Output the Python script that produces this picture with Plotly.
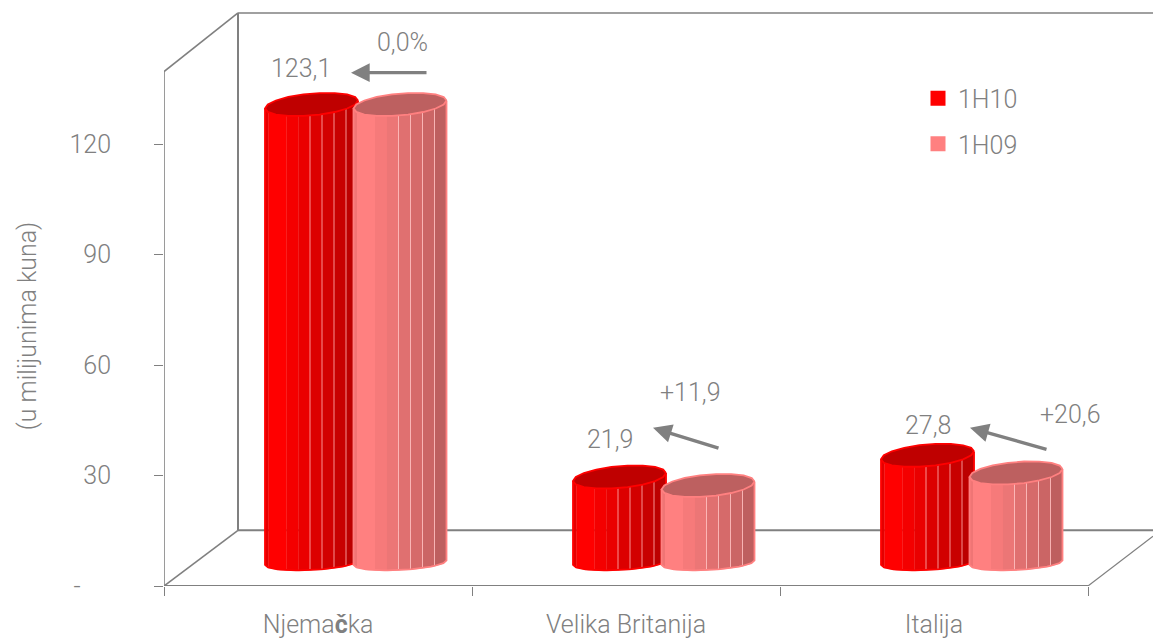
import numpy as np
import plotly.graph_objects as go

# ---- data ----
categories = ["Njema<b>č</b>ka", "Velika Britanija", "Italija"]
series_names = ["1H10", "1H09"]
values_1h10 = [123.1, 21.9, 27.8]
values_1h09 = [123.1, 19.6, 23.0]
total_labels = ["123,1", "21,9", "27,8"]
change_labels = ["0,0%", "+11,9", "+20,6"]
y_ticks = [0, 30, 60, 90, 120]
y_tick_text = ["-\u00a0\u00a0\u00a0\u00a0\u00a0", "30", "60", "90", "120"]
y_title = "(u milijunima kuna)"

# ---- geometry / style ----
W, H = 1153, 639
PX_X = 308.0          # pixels per category
PX_Y = 3.7            # pixels per value unit
ML, MB = 164, 50      # plot area starts here
GREY = "#808080"
FONT = "Roboto"
FS = 25


def fx(px):           # pixel offset -> x data units
    return px / PX_X


def fy(px):           # pixel offset -> y data units
    return px / PX_Y


Y0_PX = H - MB
x_range = [-0.5, -0.5 + (W - ML) / PX_X]
y_range = [0, Y0_PX / PX_Y]

# pseudo-3D frame
DX = fx(74)
X_L, X_R = -0.5, 2.5
Y_TOP = fy(517)
Y_BACK_TOP = fy(576)
Y_FLOOR = fy(56)
frame = [
    ((X_L, 0), (X_L, Y_TOP), 1.6),
    ((X_L, Y_TOP), (X_L + DX, Y_BACK_TOP), 1.6),
    ((X_L + DX, Y_BACK_TOP), (x_range[1], Y_BACK_TOP), 1.6),
    ((X_L + DX, Y_FLOOR), (X_L + DX, Y_BACK_TOP), 2.0),
    ((X_L + DX, Y_FLOOR), (x_range[1], Y_FLOOR), 2.0),
    ((X_L, 0), (X_L + DX, Y_FLOOR), 1.6),
    ((X_R, 0), (x_range[1], fy(50)), 1.2),
    ((X_L, 0), (X_R, 0), 2.0),
]

# cylinder geometry (in px relative to column)
SERIES_OFFSETS = [fx(-6.5), fx(82)]
A = 46.5
BASE_C = fy(23.5)
TOP_C = fy(28.5)
B_TOP, B_BASE = 11.0, 7.5
K_TOP, K_BASE = 0.085, 0.05
BAND_EDGES = [-46.5, -43, -25, -13, -1.5, 10.5, 22.5, 34.5, 46.5]
SHADES = [
    ["#e40000", "#ff0000", "#f40000", "#ea0000", "#dc0000", "#d20000", "#c80000", "#bc0000"],
    ["#f07575", "#ff8080", "#f67a7a", "#ec7676", "#e07070", "#d66a6a", "#cb6565", "#be5f5f"],
]
EDGE = ["#ff0000", "#ff8080"]
CAP = ["#bf0000", "#bd6060"]
SEP = ["rgba(255,170,170,0.85)", "rgba(255,190,190,0.85)"]

fig = go.Figure()


def base_y(u_px, v):
    """Lower edge of the cylinder side."""
    u = np.clip(u_px / A, -1, 1)
    return BASE_C + fy(K_BASE * u_px - B_BASE * np.sqrt(1 - u ** 2))


def top_mid(u_px, v):
    return TOP_C + v + fy(K_TOP * u_px)


def add_cylinder(cx, v, s, name):
    for i, (e0, e1) in enumerate(zip(BAND_EDGES[:-1], BAND_EDGES[1:])):
        us = np.linspace(e0, e1, 7)
        xs = np.concatenate([cx + fx(us), cx + fx(us[::-1])])
        ys = np.concatenate([base_y(us, v), top_mid(us[::-1], v)])
        fig.add_trace(go.Scatter(
            x=xs, y=ys, mode="lines", fill="toself", fillcolor=SHADES[s][i],
            line=dict(color=SHADES[s][i], width=0.5), showlegend=False,
            hoverinfo="text", text=f"{name}: {v}"))
    # facet separators
    sx, sy = [], []
    for e in BAND_EDGES[4:-1]:
        sx += [cx + fx(e), cx + fx(e), None]
        sy += [float(base_y(e, v)), float(top_mid(e, v)), None]
    fig.add_trace(go.Scatter(x=sx, y=sy, mode="lines", showlegend=False, hoverinfo="skip",
                             line=dict(color=SEP[s], width=1)))
    # outline of the side
    us = np.linspace(-A, A, 31)
    ox = np.concatenate([[cx - fx(A)], cx + fx(us), [cx + fx(A)]])
    oy = np.concatenate([[top_mid(-A, v)], base_y(us, v), [top_mid(A, v)]])
    fig.add_trace(go.Scatter(x=ox, y=oy, mode="lines", showlegend=False, hoverinfo="skip",
                             line=dict(color=EDGE[s], width=1.8)))
    # top cap
    t = np.linspace(0, 2 * np.pi, 19)
    u = A * np.cos(t)
    fig.add_trace(go.Scatter(
        x=cx + fx(u), y=top_mid(u, v) + fy(B_TOP * np.sin(t)),
        mode="lines", fill="toself", fillcolor=CAP[s],
        line=dict(color=EDGE[s], width=1.8), showlegend=False,
        hoverinfo="text", text=f"{name}: {v}"))


for s, (name, vals) in enumerate(zip(series_names, [values_1h10, values_1h09])):
    for c, v in enumerate(vals):
        add_cylinder(c + SERIES_OFFSETS[s], v, s, name)

# legend entries
for name, color in zip(series_names, EDGE):
    fig.add_trace(go.Scatter(x=[None], y=[None], mode="markers", name=name, legendgroup=name,
                             marker=dict(symbol="square", size=15, color=color)))

shapes = [dict(type="line", xref="x", yref="y", x0=a[0], y0=a[1], x1=b[0], y1=b[1],
               line=dict(color=GREY, width=w), layer="below") for a, b, w in frame]

# annotation placement (pixel offsets from the column centre / above the floor line)
total_pos = [(-17, 520), (-16, 147), (-6, 161)]
change_pos = [(84, 546), (64, 194), (136, 172)]
arrow_tail = [(110, 516), (94, 138), (114, 137)]
arrow_head = [(33, 516), (27, 159), (36, 159)]
annotations = []
for c in range(3):
    annotations.append(dict(x=c + fx(total_pos[c][0]), y=fy(total_pos[c][1]), text=total_labels[c],
                            showarrow=False, xref="x", yref="y"))
    annotations.append(dict(x=c + fx(change_pos[c][0]), y=fy(change_pos[c][1]), text=change_labels[c],
                            showarrow=False, xref="x", yref="y"))
    annotations.append(dict(x=c + fx(arrow_head[c][0]), y=fy(arrow_head[c][1]),
                            ax=c + fx(arrow_tail[c][0]), ay=fy(arrow_tail[c][1]),
                            xref="x", yref="y", axref="x", ayref="y", text="", showarrow=True,
                            arrowhead=2, arrowsize=1.1, arrowwidth=3.4, arrowcolor=GREY))

# y-axis title, placed to match the reference
annotations.append(dict(xref="paper", yref="paper", x=(27 - ML) / (W - ML), y=1 - 328 / (H - MB),
                        xanchor="center", yanchor="middle", text=y_title, textangle=-90, showarrow=False))

fig.update_layout(
    width=W, height=H,
    margin=dict(l=ML, r=0, t=0, b=MB, pad=0),
    paper_bgcolor="white", plot_bgcolor="white",
    font=dict(family=FONT, size=FS, color=GREY, weight=300),
    shapes=shapes, annotations=annotations,
    legend=dict(x=(918 - ML) / (W - ML), y=1 - 76 / (H - MB), xanchor="left", yanchor="top",
                bgcolor="rgba(0,0,0,0)", tracegroupgap=10, itemwidth=30,
                font=dict(family=FONT, size=FS, color=GREY, weight=300)),
    xaxis=dict(range=x_range, tickmode="array", tickvals=[0, 1, 2], ticktext=categories,
               showgrid=False, zeroline=False, showline=False, ticks="", ticklabelstandoff=21,
               minor=dict(tickmode="array", tickvals=[-0.5, 0.5, 1.5, 2.5], ticks="outside",
                          ticklen=9, tickcolor=GREY, tickwidth=1.2, showgrid=False)),
    yaxis=dict(range=y_range, tickmode="array", tickvals=y_ticks, ticktext=y_tick_text,
               showgrid=False, zeroline=False, showline=False, ticks="outside", ticklen=9,
               tickcolor=GREY, tickwidth=1.2, ticklabelstandoff=38),
)

fig.write_html("out.html", config={"displayModeBar": False},
               post_script="document.body.style.margin='0';")
